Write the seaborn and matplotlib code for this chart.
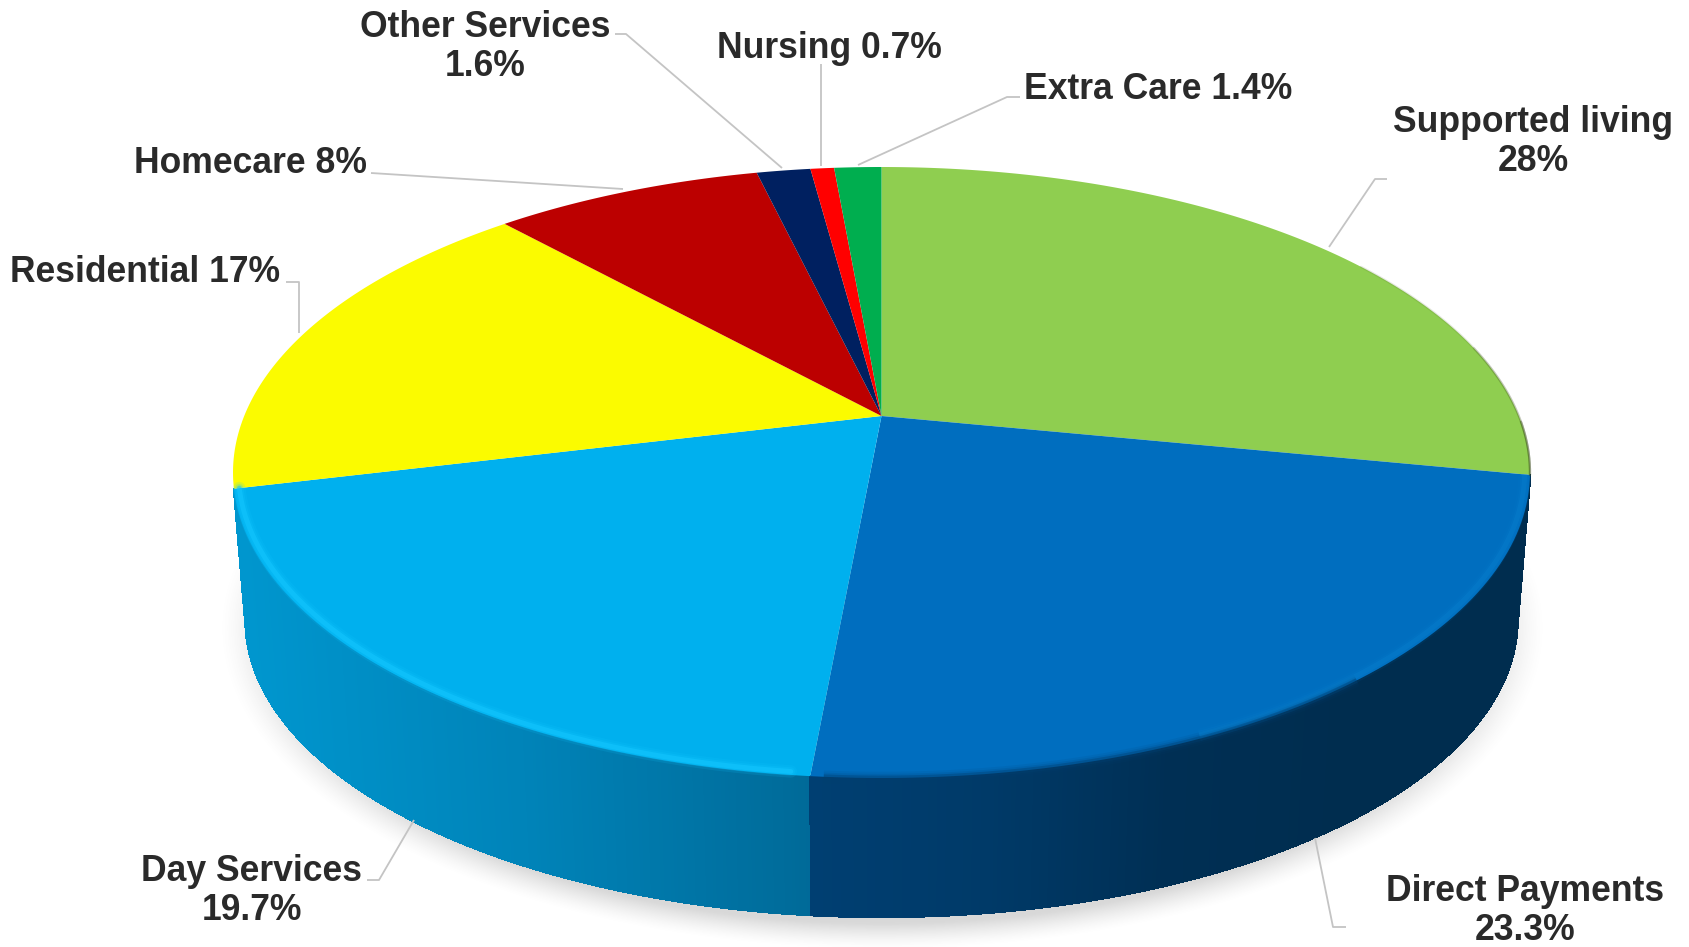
import numpy as np
import seaborn as sns
import matplotlib.pyplot as plt
from matplotlib.collections import PolyCollection
from matplotlib.path import Path
from matplotlib.transforms import Transform

# -------------- DATA -------------------#

services = ['Supported living', 'Direct Payments', 'Day Services', 'Residential',
            'Homecare', 'Other Services', 'Nursing', 'Extra Care']
shares = [28, 23.3, 19.7, 17, 8, 1.6, 0.7, 1.4]
share_labels = ['Supported living\n28%', 'Direct Payments\n23.3%', 'Day Services\n19.7%', 'Residential 17%',
                'Homecare 8%', 'Other Services\n1.6%', 'Nursing 0.7%', 'Extra Care 1.4%']
colors = ['#8FCE50', '#006EBF', '#00B0EE', '#FBFB00', '#BC0000', '#002060', '#FF0000', '#00AE4F']

label_pos = [(1533, 142), (1525, 911), (252, 891), (145, 272),
             (250, 163), (485, 47), (829, 48), (1158, 89)]
leaders = [[(1387, 179), (1375, 179), (1329, 247)],
           [(1346, 927), (1333, 927), (1315, 838)],
           [(367, 880), (379, 880), (414, 820)],
           [(286, 282), (299, 282), (299, 333)],
           [(371, 173), (623, 189)],
           [(615, 34), (626, 34), (782, 168)],
           [(821.5, 64), (821.5, 166)],
           [(1020, 97), (1007, 97), (858, 165)]]

# -------------- GEOMETRY (tilted disc, in pixels) -------------------#

CX, CY = 881.5, 416
UP, DOWN = 249, 362      # distance of the apex to the far / near rim
HALF_W = 648.5
K = (DOWN - UP) / (DOWN + UP)
A = UP * (1 + K)
B = HALF_W * np.sqrt(1 - K ** 2)
TOP_CY = CY + (DOWN - UP) / 2
TOP_RY = (DOWN + UP) / 2
BOT_CY, BOT_RX, BOT_RY = 620, 636, 297


def project(xy):
    x, y = xy[:, 0], xy[:, 1]
    w = 1 + K * y
    return np.column_stack([CX + B * x / w, CY - A * y / w])


class Tilt(Transform):
    input_dims = output_dims = 2
    is_affine = False

    def transform_non_affine(self, values):
        return project(np.asarray(values, dtype=float))

    def transform_path_non_affine(self, path):
        # flatten the wedge arcs first, a bezier does not survive the perspective
        t = np.linspace(0, 1, 40)
        pts = [seg(t) for seg, _ in path.iter_bezier() if seg.degree > 0]
        return Path(project(np.vstack(pts)))


def rim(t1, t2, n=200, radius=1.0):
    t = np.radians(np.linspace(t1, t2, n))
    return project(radius * np.column_stack([np.cos(t), np.sin(t)]))


def lower(pts):
    return np.column_stack([CX + (pts[:, 0] - CX) * BOT_RX / HALF_W,
                            BOT_CY + (pts[:, 1] - TOP_CY) * BOT_RY / TOP_RY])


def wall(ax, t1, t2, stops, x0, x1):
    top = rim(t1, t2, 260)
    bot = lower(top)
    pal = sns.blend_palette(stops, 256)
    quads, cols = [], []
    for i in range(len(top) - 1):
        quads.append([top[i], top[i + 1], bot[i + 1], bot[i]])
        u = (top[i, 0] - x0) / (x1 - x0)
        cols.append(pal[int(np.clip(u, 0, 1) * 255)])
    ax.add_collection(PolyCollection(quads, facecolors=cols, edgecolors=cols, linewidths=1.0,
                                     antialiaseds=False, zorder=2))


# -------------- FIGURE -------------------#

sns.set_theme(style='white')
plt.rcParams['font.family'] = ['Liberation Sans', 'DejaVu Sans']

fig = plt.figure(figsize=(16.9, 9.47), dpi=100)
ax = fig.add_axes([0, 0, 1, 1])

wedges, _ = ax.pie(shares, colors=colors, startangle=90, counterclock=False,
                   wedgeprops={'linewidth': 0, 'zorder': 3})
tilt = Tilt()
for w in wedges:
    w.set_transform(tilt + ax.transData)

ax.set_aspect('auto')
ax.set_frame_on(False)

# soft shadow under the disc
gx, gy = np.meshgrid(np.arange(0, 1690, 2.0), np.arange(0, 947, 2.0))
r = np.sqrt(((gx - CX) / (BOT_RX + 26)) ** 2 + ((gy - BOT_CY - 8) / (BOT_RY + 24)) ** 2)
fade = np.clip((1 - r) / 0.08, 0, 1) ** 1.4
fade *= np.clip((gy - 470) / 120, 0, 1)
shadow = np.zeros(gx.shape + (4,))
shadow[..., :3] = 0.62
shadow[..., 3] = 0.40 * fade
ax.imshow(shadow, extent=(0, 1690, 947, 0), aspect='auto', zorder=1, interpolation='bilinear')

# side walls, gradient runs left to right
direct, day = wedges[1], wedges[2]
wall(ax, day.theta1, day.theta2, ['#006A98', '#0083B8', '#0096CE'], 812, 245)
wall(ax, direct.theta1, direct.theta2, ['#002D4F', '#002D4F', '#002F54', '#003A68', '#003F72'], 1530, 812)

# bottom edge of the wall
for lw, al in [(3, 0.18), (1.5, 0.3)]:
    ax.plot(*lower(rim(direct.theta1, day.theta2, 400)).T, color='#00233F', lw=lw, alpha=al, zorder=2.5)
ax.plot(*rim(direct.theta1, day.theta2, 400).T, color='#005080', lw=1.5, alpha=0.5, zorder=2.5)

# bevel on the near rim
for lw, al in [(9, 0.14), (6, 0.22), (3.5, 0.55)]:
    ax.plot(*rim(day.theta1, day.theta2 - 1.5, radius=0.992).T, color='#14C6FF', lw=lw, alpha=al, zorder=4,
            solid_capstyle='round')
    ax.plot(*rim(direct.theta1 + 30, direct.theta2, radius=0.992).T, color='#0A82D0', lw=lw, alpha=al * 0.6,
            zorder=4, solid_capstyle='butt')
    ax.plot(*rim(direct.theta1 + 1, direct.theta1 + 45, radius=1.0).T, color='#003F70', lw=lw, alpha=al * 0.7,
            zorder=4, solid_capstyle='butt')

# dark edge where the green slice meets the right side
green = wedges[0]
for off, al in [(45, 0.12), (25, 0.2), (10, 0.35)]:
    ax.plot(*rim(green.theta1, green.theta1 + off).T, color='#3A4A1C', lw=1.6, alpha=al, zorder=4)

# leader lines and labels
for pts in leaders:
    ax.plot(*zip(*pts), color='#C4C4C4', lw=1.3, zorder=5, solid_capstyle='butt')

for txt, (x, y) in zip(share_labels, label_pos):
    ax.text(x, y, txt, ha='center', va='center', fontsize=25.6, fontweight='bold', color='#2A2A2A',
            linespacing=1.18, zorder=6)

ax.set_xlim(0, 1690)
ax.set_ylim(947, 0)
ax.set_xticks([])
ax.set_yticks([])

plt.savefig('out.png', dpi=100)
plt.close()
